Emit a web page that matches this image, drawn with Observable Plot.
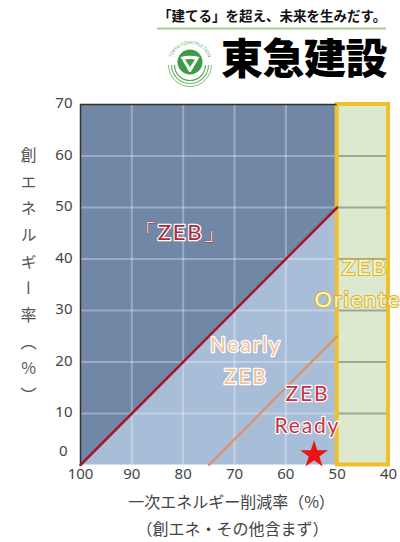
<!DOCTYPE html>
<html><head><meta charset="utf-8">
<script src="https://cdn.jsdelivr.net/npm/d3@7"></script>
<script src="https://cdn.jsdelivr.net/npm/@observablehq/plot@0.6"></script>
<style>
body{margin:0;background:#fff;width:400px;height:542px;overflow:hidden;}
#header{display:block}
</style></head><body>
<svg id="header" width="400" height="90" viewBox="0 0 400 90">
  <defs><path id="arcTxt" d="M171 63 A19 19 0 0 1 209 63"/></defs>
  <text x="158" y="21" font-family="'Noto Sans CJK JP'" font-weight="700" font-size="13.5" fill="#111">「建てる」を超え、未来を生みだす。</text>
  <line x1="157" x2="386" y1="28.5" y2="28.5" stroke="#a5cf8a" stroke-width="2"/>
  <text font-size="4.3" fill="#4a9a4a" font-family="'Noto Sans'"><textPath href="#arcTxt" startOffset="50%" text-anchor="middle">TOKYU CONSTRUCTION</textPath></text>
  <circle cx="190" cy="62" r="12.5" fill="#3c9c46"/>
  <path d="M180.5 57 Q190 54.5 199.5 57 L190.8 72 L189.2 72 Z" fill="#fff"/>
  <path d="M185 59.5 Q190 58.5 195 59.5 L190 67 Z" fill="#3c9c46"/>
  <path d="M174.5 65 A15.5 15.5 0 0 0 205.5 65" fill="none" stroke="#5aaa5a" stroke-width="1.2"/>
  <path d="M171.5 65 A18.5 18.5 0 0 0 208.5 65" fill="none" stroke="#6ab46a" stroke-width="1.1"/>
  <path d="M168.5 65 A21.5 21.5 0 0 0 211.5 65" fill="none" stroke="#7dbf7d" stroke-width="1"/>
  <text x="221" y="74" font-family="'Noto Sans CJK JP'" font-weight="900" font-size="42" fill="#000" letter-spacing="-0.5">東急建設</text>
</svg>
<div id="chart"></div>
<script>
const xTicks = [100, 90, 80, 70, 60, 50, 40];
const yTicks = [10, 20, 30, 40, 50, 60, 70];
const yZeroTick = [0];
const xDomain = [100, 40];
const yDomain = [0, 70];
const zebLineX = [100, 50];
const zebLineY = [0, 50];
const readyLineX = [75, 50];
const readyLineY = [0, 25];
const orientedX = [50, 40];
const zoneNames = ["「ZEB」", "Nearly\nZEB", "ZEB\nReady", "ZEB\nOriented"];
const zoneX = [80.5, 67.8, 55.8, 44.6];
const zoneY = [45, 20.8, 11.3, 35.8];
const starX = [54.5];
const starY = [2.0];
const xTitle = ["一次エネルギー削減率（%）", "（創エネ・その他含まず）"];
const yTitle = "創エネルギー率（%）";

const CJK = "'Noto Sans CJK JP', sans-serif";
const LAT = "Lato";
const blueX = [zebLineX[0], orientedX[0]];
const gridX = xTicks.filter(v => v < blueX[0] && v > blueX[1]);
const gridY = yTicks.filter(v => v > yDomain[0] && v < yDomain[1]);
const idx = d3.range(zebLineX.length);

const zoneMark = (i, style) => Plot.text([i], {
  x: j => zoneX[j], y: j => zoneY[j], text: j => zoneNames[j],
  fontFamily: LAT, ...style
});

const chart = Plot.plot({
  width: 400, height: 452,
  marginTop: 14, marginBottom: 77.5, marginLeft: 80, marginRight: 12,
  style: {fontFamily: "'Noto Sans', sans-serif", fontSize: "15px", color: "#444", background: "transparent"},
  x: {domain: xDomain, label: null},
  y: {domain: yDomain, label: null},
  marks: [
    Plot.rect([0], {x1: blueX[0], x2: blueX[1], y1: yDomain[0], y2: yDomain[1], fill: "#a8bdd7"}),
    Plot.areaY(idx, {x: i => zebLineX[i], y1: i => zebLineY[i], y2: yDomain[1], fill: "#7187a6"}),
    Plot.ruleX(gridX, {y1: yDomain[0], y2: yDomain[1], stroke: "white", strokeOpacity: 0.3, strokeWidth: 2}),
    Plot.ruleY(gridY, {x1: blueX[0], x2: blueX[1], stroke: "white", strokeOpacity: 0.3, strokeWidth: 2}),
    Plot.rect([0], {x1: orientedX[0], x2: orientedX[1], y1: yDomain[0], y2: yDomain[1], fill: "#dde9cf"}),
    Plot.ruleY(gridY, {x1: orientedX[0], x2: orientedX[1], stroke: "#9aab92", strokeWidth: 2}),
    Plot.rect([0], {x1: orientedX[0], x2: orientedX[1], y1: yDomain[0], y2: yDomain[1], fill: "none", stroke: "#f0c02c", strokeWidth: 4}),
    Plot.ruleY([yDomain[1]], {x1: blueX[0], x2: blueX[1], stroke: "#333", strokeWidth: 1.5}),
    Plot.ruleX([blueX[0]], {y1: yDomain[0], y2: yDomain[1], stroke: "#333", strokeWidth: 1.5}),
    Plot.line(idx, {x: i => zebLineX[i], y: i => zebLineY[i], stroke: "#a3182e", strokeWidth: 2.5}),
    Plot.line(idx, {x: i => readyLineX[i], y: i => readyLineY[i], stroke: "#e38c5c", strokeWidth: 2}),
    zoneMark(0, {fill: "#b0283a", stroke: "white", strokeWidth: 2.5, fontSize: 22}),
    zoneMark(1, {fill: "#f3c29a", stroke: "white", strokeWidth: 2.5, fontSize: 21, lineHeight: 1.5}),
    zoneMark(2, {fill: "#c83240", stroke: "white", strokeWidth: 2.5, fontSize: 21, lineHeight: 1.5}),
    zoneMark(3, {fill: "#faf3c8", stroke: "#d9b43a", strokeWidth: 2.2, fontSize: 22, lineHeight: 1.45}),
    Plot.dot(starX.map((_, i) => i), {x: i => starX[i], y: i => starY[i], symbol: "star", r: 8.7, fill: "#ee1111", stroke: "none"}),
    Plot.axisX({ticks: xTicks, tickSize: 0, tickPadding: 3, tickFormat: d => String(d), label: null}),
    Plot.axisY({ticks: yTicks, tickSize: 0, tickPadding: 8, dy: -1, label: null}),
    Plot.axisY({ticks: yZeroTick, tickSize: 0, tickPadding: 13, dy: -14, label: null}),
    Plot.text([xTitle[0]], {text: d => d, frameAnchor: "bottom", dy: 42.5, dx: -3, fontSize: 16, fill: "#444", fontFamily: CJK}),
    Plot.text([xTitle[1]], {text: d => d, frameAnchor: "bottom", dy: 69.5, dx: -2, fontSize: 16, fill: "#444", fontFamily: CJK}),
    Plot.text([yTitle], {text: d => d, frameAnchor: "left", dx: -52, dy: -138, textAnchor: "start", fontSize: 16, fill: "#555", fontFamily: CJK})
  ]
});
document.getElementById("chart").appendChild(chart);

const sel = d3.select(chart);
sel.selectAll('g[font-family="Lato"] text').style("letter-spacing", "1.8px");
sel.selectAll("text").filter(function () { return this.textContent === yTitle; })
  .attr("y", null).attr("dy", null)
  .style("writing-mode", "vertical-rl")
  .style("text-orientation", "upright")
  .style("letter-spacing", "10.7px");
sel.selectAll("text").filter(function () { return this.textContent === zoneNames[0]; })
  .each(function () {
    const t = d3.select(this);
    const s = this.textContent;
    t.text(null);
    [...s].forEach(ch => {
      const sp = t.append("tspan").text(ch);
      if (ch === "「" || ch === "」") sp.attr("fill", "white").attr("stroke", "#b0283a").attr("stroke-width", 1);
    });
  });
</script>
</body></html>
